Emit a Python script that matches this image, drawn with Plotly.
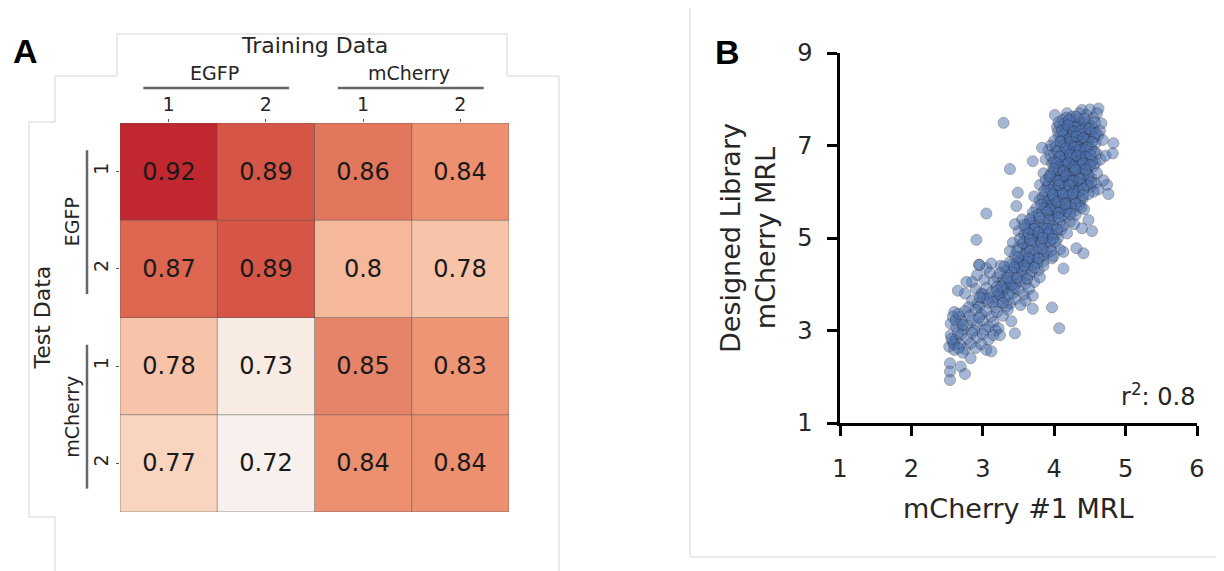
import plotly.graph_objects as go

# The page is drawn with an 8 px body margin, so the figure is sized to the
# remaining window and reference pixel positions are offset by that margin.
OFF = 8
W, H = 1224 - OFF, 571 - OFF


def px(x):
    return (x - OFF) / W


def py(y):
    return 1 - (y - OFF) / H


# ---------------- Panel A data ----------------
train_groups = ["EGFP", "mCherry"]
test_groups = ["EGFP", "mCherry"]
rep_labels = ["1", "2", "1", "2"]
r2_matrix = [
    [0.92, 0.89, 0.86, 0.84],
    [0.87, 0.89, 0.80, 0.78],
    [0.78, 0.73, 0.85, 0.83],
    [0.77, 0.72, 0.84, 0.84],
]

# ---------------- Panel B data ----------------
points = [
    # top fringe
    [4.01, 7.66], [4.18, 7.70], [4.39, 7.77], [4.50, 7.78], [4.62, 7.80], [4.66, 7.48],
    [4.12, 7.55], [4.25, 7.62], [4.33, 7.58], [4.45, 7.66], [4.55, 7.60], [4.28, 7.45],
    [4.40, 7.50], [4.20, 7.40], [4.52, 7.42], [4.08, 7.44], [4.60, 7.70], [4.35, 7.70],
    [4.47, 7.52],
    # 7.0 - 7.4
    [4.05, 7.30], [4.15, 7.35], [4.22, 7.25], [4.30, 7.32], [4.38, 7.38], [4.46, 7.30],
    [4.55, 7.35], [4.62, 7.22], [4.00, 7.10], [4.10, 7.15], [4.18, 7.05], [4.27, 7.12],
    [4.35, 7.18], [4.42, 7.08], [4.50, 7.15], [4.58, 7.05], [4.68, 7.12], [4.25, 7.00],
    [4.40, 7.02], [3.95, 7.00], [4.33, 7.28], [4.48, 7.22], [4.12, 7.22], [4.64, 7.32],
    [4.20, 7.36],
    # 6.5 - 7.0
    [3.92, 6.90], [4.00, 6.82], [4.08, 6.95], [4.15, 6.85], [4.22, 6.92], [4.30, 6.88],
    [4.38, 6.95], [4.45, 6.85], [4.52, 6.92], [4.60, 6.82], [3.88, 6.70], [3.97, 6.62],
    [4.05, 6.72], [4.12, 6.65], [4.20, 6.75], [4.28, 6.68], [4.35, 6.76], [4.43, 6.66],
    [4.50, 6.72], [4.58, 6.62], [4.65, 6.70], [4.02, 6.55], [4.18, 6.52], [4.32, 6.56],
    [4.47, 6.52], [4.25, 6.60], [4.10, 6.80], [4.40, 6.80], [4.55, 6.55], [3.95, 6.78],
    [4.72, 6.78],
    # 6.0 - 6.5
    [3.85, 6.40], [3.93, 6.30], [4.00, 6.45], [4.08, 6.35], [4.15, 6.42], [4.22, 6.30],
    [4.30, 6.40], [4.37, 6.32], [4.45, 6.42], [4.52, 6.30], [4.60, 6.40], [3.80, 6.15],
    [3.90, 6.10], [3.98, 6.20], [4.05, 6.08], [4.12, 6.18], [4.20, 6.05], [4.27, 6.16],
    [4.35, 6.08], [4.42, 6.20], [4.50, 6.10], [4.58, 6.18], [4.03, 6.28], [4.18, 6.22],
    [4.33, 6.24], [4.48, 6.25], [3.88, 6.25], [4.25, 6.48], [4.40, 6.50], [4.10, 6.48],
    [4.62, 6.05], [4.55, 6.00],
    # 5.5 - 6.0
    [3.72, 5.90], [3.80, 5.82], [3.88, 5.95], [3.95, 5.85], [4.02, 5.92], [4.10, 5.80],
    [4.18, 5.90], [4.25, 5.82], [4.32, 5.94], [4.40, 5.85], [4.48, 5.95], [3.75, 5.65],
    [3.83, 5.58], [3.90, 5.70], [3.98, 5.62], [4.05, 5.72], [4.12, 5.60], [4.20, 5.68],
    [4.28, 5.58], [4.35, 5.70], [4.42, 5.62], [3.86, 5.78], [4.00, 5.52], [4.15, 5.50],
    [4.30, 5.50], [3.70, 5.55], [4.08, 5.98], [4.22, 5.76], [3.93, 5.50],
    # 5.0 - 5.5
    [3.55, 5.40], [3.63, 5.30], [3.70, 5.45], [3.78, 5.35], [3.85, 5.42], [3.92, 5.30],
    [4.00, 5.40], [4.08, 5.32], [4.15, 5.44], [4.22, 5.35], [3.50, 5.15], [3.58, 5.08],
    [3.65, 5.20], [3.72, 5.10], [3.80, 5.22], [3.88, 5.12], [3.95, 5.20], [4.02, 5.08],
    [4.10, 5.18], [4.18, 5.10], [3.62, 5.00], [3.76, 5.02], [3.90, 5.00], [4.05, 5.00],
    [3.68, 5.32], [3.97, 5.48], [4.28, 5.30], [3.45, 5.30],
    # 4.5 - 5.0
    [3.42, 4.90], [3.50, 4.80], [3.57, 4.92], [3.64, 4.82], [3.72, 4.95], [3.80, 4.85],
    [3.88, 4.92], [3.95, 4.82], [4.02, 4.90], [3.45, 4.62], [3.53, 4.55], [3.60, 4.68],
    [3.67, 4.58], [3.75, 4.70], [3.82, 4.60], [3.90, 4.68], [3.97, 4.56], [3.62, 4.78],
    [3.78, 4.76], [3.55, 4.50], [3.70, 4.52], [3.85, 4.50], [3.38, 4.72], [4.08, 4.75],
    # 4.0 - 4.5
    [3.25, 4.40], [3.33, 4.30], [3.40, 4.42], [3.48, 4.32], [3.55, 4.45], [3.62, 4.35],
    [3.70, 4.42], [3.78, 4.30], [3.85, 4.40], [3.20, 4.15], [3.28, 4.08], [3.35, 4.20],
    [3.42, 4.10], [3.50, 4.22], [3.57, 4.12], [3.65, 4.20], [3.72, 4.05], [3.80, 4.15],
    [3.30, 4.02], [3.45, 4.00], [3.60, 4.02], [2.95, 4.42], [3.05, 4.35], [3.12, 4.45],
    [2.92, 4.20], [3.02, 4.10], [3.10, 4.25], [3.15, 4.05], [2.85, 4.05], [3.38, 4.48],
    [3.52, 4.38],
    # 3.5 - 4.0
    [2.90, 3.90], [2.98, 3.80], [3.05, 3.92], [3.12, 3.82], [3.20, 3.95], [3.28, 3.85],
    [3.35, 3.92], [3.42, 3.80], [3.50, 3.88], [3.58, 3.78], [3.65, 3.90], [2.85, 3.65],
    [2.93, 3.58], [3.00, 3.70], [3.08, 3.60], [3.15, 3.72], [3.23, 3.62], [3.30, 3.70],
    [3.38, 3.58], [3.45, 3.68], [3.53, 3.55], [3.60, 3.65], [2.80, 3.50], [2.95, 3.52],
    [3.18, 3.50], [3.33, 3.52], [3.25, 3.75], [3.40, 3.98], [3.70, 3.75], [2.75, 3.80],
    # 3.0 - 3.5
    [2.60, 3.40], [2.68, 3.30], [2.75, 3.42], [2.82, 3.32], [2.90, 3.45], [2.98, 3.35],
    [3.05, 3.42], [3.12, 3.30], [3.20, 3.40], [3.28, 3.32], [3.35, 3.45], [2.55, 3.15],
    [2.63, 3.08], [2.70, 3.20], [2.78, 3.10], [2.85, 3.22], [2.92, 3.12], [3.00, 3.20],
    [3.08, 3.08], [3.15, 3.18], [3.22, 3.05], [2.58, 3.30], [2.72, 3.02], [2.88, 3.00],
    [3.03, 3.02], [3.18, 3.00], [2.95, 3.28], [3.40, 3.20],
    # 2.5 - 3.0
    [2.55, 2.90], [2.62, 2.80], [2.70, 2.92], [2.78, 2.82], [2.85, 2.95], [2.92, 2.85],
    [3.00, 2.92], [3.08, 2.80], [3.15, 2.90], [2.53, 2.65], [2.60, 2.58], [2.68, 2.70],
    [2.75, 2.60], [2.83, 2.72], [2.90, 2.62], [2.98, 2.70], [3.05, 2.58], [3.12, 2.55],
    [2.58, 2.75], [2.72, 2.52], [2.65, 2.95],
    # dense upper core
    [4.04, 7.40], [4.14, 7.48], [4.24, 7.52], [4.36, 7.46], [4.44, 7.40], [4.31, 7.62],
    [4.17, 7.60], [4.07, 7.20], [4.16, 7.28], [4.26, 7.20], [4.34, 7.10], [4.44, 7.25],
    [4.52, 7.28], [4.22, 7.14], [4.30, 7.05], [4.38, 7.25], [4.46, 7.12], [4.56, 7.18],
    [4.02, 6.98], [4.13, 7.00], [4.20, 6.98], [4.33, 6.98], [4.48, 6.98], [4.26, 6.84],
    [4.34, 6.86], [4.42, 6.90], [4.18, 6.88], [4.05, 6.88], [4.56, 6.86], [4.00, 6.65],
    [4.09, 6.58], [4.16, 6.70], [4.24, 6.72], [4.31, 6.62], [4.39, 6.70], [4.46, 6.60],
    [4.53, 6.66], [4.14, 6.58], [4.36, 6.58], [3.96, 6.40], [4.04, 6.38], [4.12, 6.30],
    [4.19, 6.38], [4.27, 6.32], [4.34, 6.44], [4.41, 6.36], [4.48, 6.34], [4.07, 6.46],
    [4.22, 6.46], [3.92, 6.18], [4.00, 6.12], [4.09, 6.24], [4.15, 6.12], [4.24, 6.22],
    [4.31, 6.12], [4.38, 6.16], [4.46, 6.14], [4.03, 6.02], [4.17, 6.00], [4.29, 6.02],
    [3.84, 5.88], [3.92, 5.78], [4.00, 5.86], [4.06, 5.82], [4.14, 5.85], [4.21, 5.92],
    [4.29, 5.86], [4.36, 5.80], [3.96, 5.70], [4.09, 5.68], [4.24, 5.64], [3.87, 5.64],
    [4.02, 5.60], [4.17, 5.58],
    [4.06, 7.50], [4.21, 7.56], [4.29, 7.40], [4.42, 7.58], [4.57, 7.50], [4.11, 7.32],
    [4.19, 7.44], [4.27, 7.30], [4.37, 7.32], [4.49, 7.36], [4.58, 7.26], [4.09, 7.08],
    [4.23, 7.08], [4.31, 7.20], [4.41, 7.16], [4.53, 7.08], [4.16, 6.94], [4.28, 6.96],
    [4.36, 6.90], [4.45, 6.96], [4.08, 6.76], [4.22, 6.80], [4.32, 6.78], [4.44, 6.76],
    [4.51, 6.80], [4.03, 6.62], [4.20, 6.62], [4.28, 6.54], [4.40, 6.62], [4.50, 6.58],
    [3.99, 6.50], [4.13, 6.44], [4.30, 6.48], [4.44, 6.48], [3.94, 6.34], [4.06, 6.24],
    [4.16, 6.34], [4.26, 6.24], [4.36, 6.28], [4.52, 6.20], [3.95, 6.04], [4.07, 6.14],
    [4.21, 6.14], [4.34, 6.00], [4.41, 6.06], [3.86, 6.02], [3.98, 5.94], [4.12, 5.96],
    [4.26, 5.96], [4.40, 5.92], [3.82, 5.72], [3.94, 5.62], [4.04, 5.78], [4.16, 5.74],
    [4.30, 5.74], [4.38, 5.66], [3.78, 5.50], [3.90, 5.56], [4.06, 5.54], [4.22, 5.52],
    # dense middle band
    [3.60, 5.22], [3.74, 5.26], [3.86, 5.28], [3.98, 5.26], [4.12, 5.26], [3.70, 5.05],
    [3.83, 5.06], [3.97, 5.08], [3.56, 4.88], [3.68, 4.88], [3.82, 4.90], [3.94, 4.92],
    [3.58, 4.64], [3.72, 4.62], [3.86, 4.64], [3.48, 4.46], [3.62, 4.48], [3.76, 4.46],
    [3.40, 4.26], [3.55, 4.28], [3.68, 4.28], [3.38, 4.05], [3.52, 4.06], [3.28, 3.90],
    [3.44, 3.92], [3.22, 3.78], [3.36, 3.78], [3.14, 3.62], [3.28, 3.60],
    [3.66, 5.40], [3.80, 5.44], [3.93, 5.38], [4.06, 5.44], [3.58, 5.28], [3.72, 5.20],
    [3.90, 5.20], [4.04, 5.18], [3.64, 5.10], [3.78, 5.12], [3.92, 5.10], [3.52, 4.98],
    [3.66, 4.96], [3.84, 5.00], [3.98, 4.98], [3.48, 4.72], [3.66, 4.72], [3.84, 4.76],
    [3.96, 4.72], [3.50, 4.58], [3.64, 4.56], [3.78, 4.56], [3.30, 4.38], [3.44, 4.36],
    [3.58, 4.40], [3.72, 4.36], [3.34, 4.14], [3.48, 4.14], [3.62, 4.12], [3.24, 4.24],
    # lower clumps
    [2.62, 3.22], [2.66, 3.36], [2.72, 3.12], [2.60, 2.70], [2.66, 2.62], [2.56, 2.82],
    [3.00, 3.78], [3.06, 3.68], [2.96, 3.72], [3.20, 3.86], [3.26, 3.95],
    # outliers
    [3.29, 7.49], [3.38, 6.49], [3.70, 6.66], [3.83, 6.95], [3.05, 5.53], [2.91, 4.96],
    [3.49, 5.98], [3.47, 5.69], [2.77, 4.05], [2.65, 3.86], [2.95, 4.42], [3.97, 3.50],
    [4.07, 3.05], [3.70, 3.47], [3.45, 2.94], [3.24, 2.90], [2.83, 2.40], [2.69, 2.22],
    [2.75, 2.06], [2.54, 2.29], [2.54, 2.11], [2.54, 1.93], [4.39, 5.21], [4.53, 5.15],
    [4.41, 4.67], [4.31, 4.78], [4.48, 5.39], [4.13, 4.70], [4.13, 4.34], [3.99, 4.61],
    [4.83, 7.05], [4.82, 6.83], [4.74, 6.15], [4.76, 5.95], [4.69, 6.25],
]
mcherry1_mrl = [p[0] for p in points]
designed_mrl = [p[1] for p in points]
r_squared = "0.8"

# ---------------- colours ----------------
cell_anchor_vals = [0.72, 0.73, 0.77, 0.78, 0.80, 0.83, 0.84, 0.85, 0.86, 0.87, 0.89, 0.92]
cell_anchor_cols = ["#f7f0ed", "#f8ebe3", "#f9d4bf", "#f7c4aa", "#f6b89b", "#ed9575",
                    "#ec9070", "#e6846a", "#e2775d", "#de6651", "#d55546", "#c0272f"]
vmin, vmax = cell_anchor_vals[0], cell_anchor_vals[-1]
colorscale = [[(v - vmin) / (vmax - vmin), c] for v, c in zip(cell_anchor_vals, cell_anchor_cols)]

FONT = "DejaVu Sans"
TXT = "#262626"

fig = go.Figure()

fig.add_trace(go.Heatmap(
    z=r2_matrix, x=[0, 1, 2, 3], y=[0, 1, 2, 3],
    colorscale=colorscale, zmin=vmin, zmax=vmax, showscale=False,
    texttemplate="%{z}", textfont=dict(family=FONT, size=24, color="#1a1a1a"),
    xaxis="x", yaxis="y", hoverinfo="z",
))

fig.add_trace(go.Scatter(
    x=mcherry1_mrl, y=designed_mrl, mode="markers",
    marker=dict(size=11, color="#4c72b0", opacity=0.5,
                line=dict(width=0.8, color="#2a2a3a")),
    xaxis="x2", yaxis="y2", showlegend=False,
))

# heatmap cell borders
shapes = []
for i in range(5):
    shapes.append(dict(type="line", xref="x", yref="y", x0=i - 0.5, x1=i - 0.5, y0=-0.5, y1=3.5,
                       line=dict(color="rgba(90,90,90,0.55)", width=1)))
    shapes.append(dict(type="line", xref="x", yref="y", y0=i - 0.5, y1=i - 0.5, x0=-0.5, x1=3.5,
                       line=dict(color="rgba(90,90,90,0.55)", width=1)))

# group bars
GROUP_LINE = dict(color="#666666", width=2.5)
for g in range(2):
    c = 2 * g + 0.5
    shapes.append(dict(type="line", xref="x", yref="paper", x0=c - 0.76, x1=c + 0.74,
                       y0=py(88), y1=py(88), line=GROUP_LINE))
    shapes.append(dict(type="line", xref="paper", yref="y", x0=px(87), x1=px(87),
                       y0=c - 0.72, y1=c + 0.76, line=GROUP_LINE))

# faint frame lines from the composite figure
frame_paths = [
    [(55, 122), (55, 76), (117, 76), (117, 34), (507, 34), (507, 76), (559, 76), (559, 580)],
    [(55, 122), (29, 122), (29, 517), (55, 517), (55, 580)],
    [(690, 8), (690, 557), (1230, 557)],
]
for path in frame_paths:
    d = "M " + " L ".join(f"{px(x)},{py(y)}" for x, y in path)
    shapes.append(dict(type="path", xref="paper", yref="paper", path=d,
                       line=dict(color="#d4d4d4", width=1)))

annotations = [
    dict(text="<b>A</b>", x=px(25), y=py(51), xref="paper", yref="paper", showarrow=False,
         font=dict(family="Liberation Sans", size=34, color="black"), xanchor="center", yanchor="middle"),
    dict(text="<b>B</b>", x=px(727), y=py(52), xref="paper", yref="paper", showarrow=False,
         font=dict(family="Liberation Sans", size=34, color="black"), xanchor="center", yanchor="middle"),
    dict(text="Training Data", x=1.5, y=py(45), xref="x", yref="paper", showarrow=False,
         font=dict(family=FONT, size=22, color=TXT), xanchor="center", yanchor="middle"),
    dict(text="Test Data", x=px(42), y=1.5, xref="paper", yref="y", showarrow=False, textangle=-90,
         font=dict(family=FONT, size=22, color=TXT), xanchor="center", yanchor="middle"),
    dict(text="mCherry #1 MRL", x=3.5, y=py(508), xref="x2", yref="paper", showarrow=False,
         font=dict(family=FONT, size=27, color=TXT), xanchor="center", yanchor="middle"),
    dict(text="Designed Library<br>mCherry MRL", x=px(748), y=5, xref="paper", yref="y2",
         showarrow=False, textangle=-90,
         font=dict(family=FONT, size=27, color=TXT), xanchor="center", yanchor="middle"),
    dict(text="r<sup>2</sup>: " + r_squared, x=6, y=py(395), xref="x2", yref="paper", showarrow=False,
         font=dict(family=FONT, size=24, color=TXT), xanchor="right", yanchor="middle"),
]
for g, name in enumerate(train_groups):
    annotations.append(dict(text=name, x=2 * g + 0.47, y=py(73), xref="x", yref="paper",
                            showarrow=False, font=dict(family=FONT, size=19, color=TXT),
                            xanchor="center", yanchor="middle"))
for g, name in enumerate(test_groups):
    annotations.append(dict(text=name, x=px(72), y=2 * g + 0.52, xref="paper", yref="y",
                            showarrow=False, textangle=-90, font=dict(family=FONT, size=19, color=TXT),
                            xanchor="center", yanchor="middle"))

fig.update_layout(
    template="none",
    width=W, height=H, autosize=False,
    margin=dict(l=0, r=0, t=0, b=0, pad=0),
    paper_bgcolor="white", plot_bgcolor="white",
    showlegend=False,
    shapes=shapes, annotations=annotations,
    xaxis=dict(domain=[px(120), px(509)], anchor="y", side="top", range=[-0.5, 3.5],
               tickvals=[0, 1, 2, 3], ticktext=rep_labels, ticks="outside", ticklen=3,
               tickcolor="#555", tickfont=dict(family=FONT, size=19, color=TXT), automargin=False,
               showgrid=False, zeroline=False, showline=False, fixedrange=True),
    yaxis=dict(domain=[py(512), py(123)], anchor="x", range=[3.5, -0.5],
               tickvals=[0, 1, 2, 3], ticktext=rep_labels, tickangle=-90, ticks="outside", ticklen=3,
               tickcolor="#555", tickfont=dict(family=FONT, size=19, color=TXT), automargin=False,
               showgrid=False, zeroline=False, showline=False, fixedrange=True),
    xaxis2=dict(domain=[px(840), px(1197)], anchor="y2", range=[1, 6],
                tickvals=[1, 2, 3, 4, 5, 6], ticks="outside", ticklen=10, tickwidth=2.5,
                tickcolor="black", ticklabelstandoff=12, automargin=False,
                tickfont=dict(family=FONT, size=24, color=TXT),
                showline=True, linewidth=2.5, linecolor="black",
                showgrid=False, zeroline=False),
    yaxis2=dict(domain=[py(423), py(53)], anchor="x2", range=[1, 9],
                tickvals=[1, 3, 5, 7, 9], ticks="outside", ticklen=10, tickwidth=2.5,
                tickcolor="black", ticklabelstandoff=10, automargin=False,
                tickfont=dict(family=FONT, size=24, color=TXT),
                showline=True, linewidth=2.5, linecolor="black",
                showgrid=False, zeroline=False),
)

fig.write_html("out.html")
